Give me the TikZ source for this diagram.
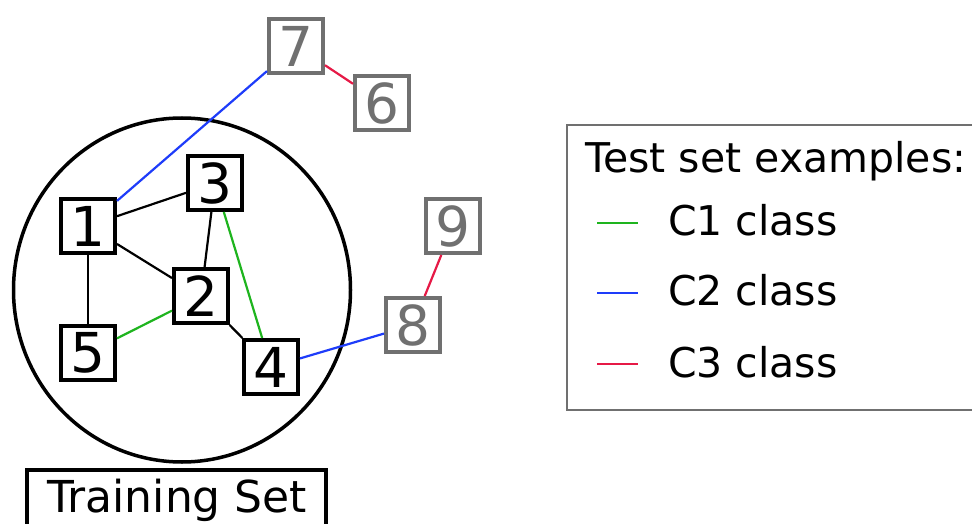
\documentclass[tikz,border=0pt]{standalone}
\usepackage{fontspec}
\usetikzlibrary{shapes.geometric}
\setmainfont{DejaVu Sans}
\definecolor{cgreen}{RGB}{30,180,30}
\definecolor{cblue}{RGB}{30,60,250}
\definecolor{cred}{RGB}{230,25,70}
\definecolor{cgray}{RGB}{112,112,112}
\begin{document}
\begin{tikzpicture}[x=1pt,y=-1pt,
  trainbox/.style={draw=black,line width=4pt,minimum size=54pt,inner sep=0pt,font=\fontsize{55}{55}\selectfont},
  testbox/.style={draw=cgray,text=cgray,line width=4pt,minimum size=54pt,inner sep=0pt,font=\fontsize{55}{55}\selectfont},
  edge/.style={line width=2.2pt},
  lbl/.style={anchor=base west,inner sep=0pt,font=\fontsize{41}{41}\selectfont}]
\useasboundingbox (0,0) rectangle (972,524);
\clip (0,0) rectangle (972,524);
\fill[white] (0,0) rectangle (972,524);
% circle
\node[draw,line width=3.5pt,ellipse,minimum width=337pt,minimum height=344pt,inner sep=0pt] (circ) at (182,290) {};
% training nodes
\node[trainbox] (n1) at (88,226) {1};
\node[trainbox] (n3) at (215,183) {3};
\node[trainbox] (n2) at (201,296) {2};
\node[trainbox] (n5) at (88,353) {5};
\node[trainbox] (n4) at (271,367) {4};
% test nodes
\node[testbox] (n7) at (296,46) {7};
\node[testbox] (n6) at (382,103) {6};
\node[testbox] (n9) at (453,226) {9};
\node[testbox] (n8) at (413,325) {8};
% edges
\draw[edge] (n1) -- (n3);
\draw[edge] (n1) -- (n2);
\draw[edge] (n1) -- (n5);
\draw[edge] (n3) -- (n2);
\draw[edge] (n2) -- (n4);
\draw[edge,cgreen] (n5) -- (n2);
\draw[edge,cgreen] (n3) -- (n4);
\draw[edge,cblue] (n1) -- (n7);
\draw[edge,cblue] (n4) -- (n8);
\draw[edge,cred] (n7) -- (n6);
\draw[edge,cred] (n8) -- (n9);
% training set label
\draw[line width=4pt] (27,540) -- (27,470) -- (326,470) -- (326,540);
\node[anchor=base west,inner sep=0pt,font=\fontsize{44}{44}\selectfont] (tl) at (47,512) {Training Set};
% legend
\draw[cgray,line width=2pt] (990,125) -- (567,125) -- (567,410) -- (990,410);
\node[lbl] (lt) at (585,172) {Test set examples:};
\coordinate (a1) at (597,223); \coordinate (b1) at (638,223);
\coordinate (a2) at (597,293); \coordinate (b2) at (638,293);
\coordinate (a3) at (597,364); \coordinate (b3) at (638,364);
\draw[edge,cgreen] (a1) -- (b1);
\draw[edge,cblue] (a2) -- (b2);
\draw[edge,cred] (a3) -- (b3);
\node[lbl] (l1) at (668,235) {C1 class};
\node[lbl] (l2) at (668,305) {C2 class};
\node[lbl] (l3) at (668,377) {C3 class};
\end{tikzpicture}
\end{document}
